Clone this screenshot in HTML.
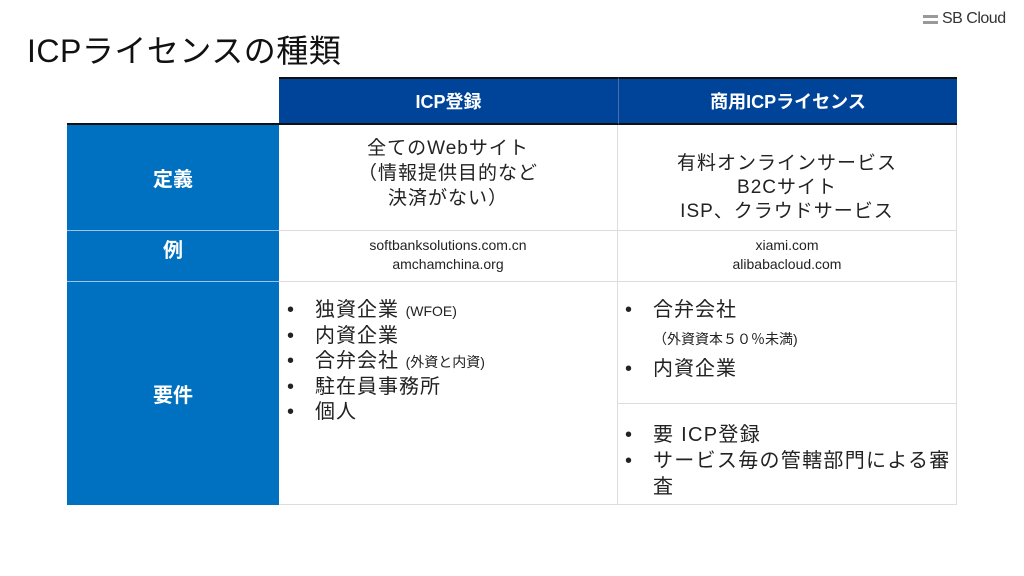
<!DOCTYPE html>
<html><head><meta charset="utf-8"><style>
body{margin:0;width:1024px;height:576px;background:#fff;position:relative;overflow:hidden;font-family:"Liberation Sans","Noto Sans CJK JP",sans-serif;color:#222}
.a{position:absolute;box-sizing:border-box}
.c{display:flex;flex-direction:column;align-items:center;justify-content:center;text-align:center}
ul{margin:0;padding:0;list-style:none}
li{position:relative;padding-left:34px}
li.b:before{content:"•";position:absolute;left:6px;letter-spacing:0}
</style></head><body>
<div class="a" style="left:27px;top:26px;font-size:32px;color:#111;letter-spacing:0.5px">ICPライセンスの種類</div>
<div class="a" style="left:923px;top:15px;width:15px;height:3px;background:#999"></div>
<div class="a" style="left:923px;top:21px;width:15px;height:3px;background:#999"></div>
<div class="a" style="left:942px;top:10px;font-size:16px;color:#333;letter-spacing:-0.5px">SB Cloud</div>

<div class="a c" style="left:279px;top:77px;width:339px;height:48px;background:#00449a;border-top:2px solid #111;border-bottom:2px solid #111;color:#fff;font-size:18px;font-weight:bold">ICP登録</div>
<div class="a c" style="left:618px;top:77px;width:339px;height:48px;background:#00449a;border-top:2px solid #111;border-bottom:2px solid #111;border-left:1px solid #4a6fb0;color:#fff;font-size:18px;font-weight:bold">商用ICPライセンス</div>

<div class="a" style="left:67px;top:123px;width:212px;height:2px;background:#111"></div>
<div class="a c" style="left:67px;top:125px;width:212px;height:105px;background:#0070c0;color:#fff;font-size:20px;font-weight:bold">定義</div>
<div class="a" style="left:67px;top:230px;width:212px;height:1px;background:#9cc3e6"></div>
<div class="a c" style="left:67px;top:231px;width:212px;height:50px;background:#0070c0;color:#fff;font-size:20px;font-weight:bold;padding-bottom:16px">例</div>
<div class="a" style="left:67px;top:281px;width:212px;height:1px;background:#9cc3e6"></div>
<div class="a c" style="left:67px;top:282px;width:212px;height:223px;background:#0070c0;color:#fff;font-size:20px;font-weight:bold">要件</div>

<div class="a" style="left:279px;top:230px;width:678px;height:1px;background:#ddd"></div>
<div class="a" style="left:279px;top:281px;width:678px;height:1px;background:#ddd"></div>
<div class="a" style="left:618px;top:403px;width:339px;height:1px;background:#ddd"></div>
<div class="a" style="left:279px;top:504px;width:678px;height:1px;background:#ddd"></div>
<div class="a" style="left:617px;top:125px;width:1px;height:380px;background:#ddd"></div>
<div class="a" style="left:956px;top:125px;width:1px;height:380px;background:#ddd"></div>

<div class="a" style="left:279px;top:136px;width:338px;text-align:center;font-size:19px;line-height:25px;letter-spacing:1px">全てのWebサイト<br>（情報提供目的など<br>決済がない）</div>
<div class="a" style="left:618px;top:152px;width:338px;text-align:center;font-size:19px;line-height:24px;letter-spacing:1px">有料オンラインサービス<br>B2Cサイト<br>ISP、クラウドサービス</div>
<div class="a" style="left:279px;top:236px;width:338px;text-align:center;font-size:14px;line-height:19px">softbanksolutions.com.cn<br>amchamchina.org</div>
<div class="a" style="left:618px;top:236px;width:338px;text-align:center;font-size:14px;line-height:19px">xiami.com<br>alibabacloud.com</div>

<ul class="a" style="left:281px;top:298px;font-size:20px;line-height:25px;letter-spacing:1px">
<li class="b">独資企業 <span style="font-size:14px;letter-spacing:0">(WFOE)</span></li>
<li class="b">内資企業</li>
<li class="b">合弁会社 <span style="font-size:14px;letter-spacing:0">(外資と内資)</span></li>
<li class="b">駐在員事務所</li>
<li class="b">個人</li>
</ul>
<ul class="a" style="left:619px;top:298px;font-size:20px;line-height:25px;letter-spacing:1px">
<li class="b">合弁会社</li>
<li style="font-size:14px;line-height:32px;letter-spacing:0">（外資資本５０％未満)</li>
<li class="b" style="margin-top:2px">内資企業</li>
</ul>
<ul class="a" style="left:619px;top:422px;width:336px;font-size:20px;line-height:26px;letter-spacing:1.3px">
<li class="b">要 ICP登録</li>
<li class="b">サービス毎の管轄部門による審査</li>
</ul>
</body></html>
